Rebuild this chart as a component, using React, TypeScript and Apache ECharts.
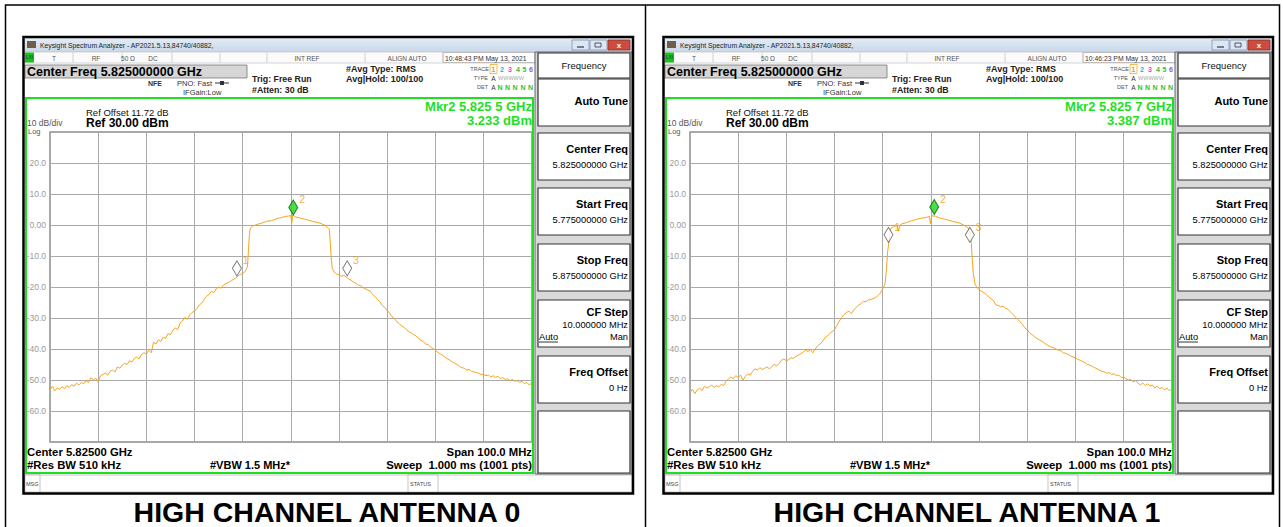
import React, { useEffect, useRef } from "react";
import * as echarts from "echarts";

const FONT = "'Liberation Sans', Arial, Helvetica, sans-serif";

// X: frequency offset (MHz) from start 5.775 GHz (span 100 MHz); Y: level in dBm
const ant0Freq = [
  0, 0.5, 1, 1.5, 2, 2.5, 3, 3.5, 4, 4.5, 5, 5.5, 6, 6.5, 7, 7.5, 8, 8.5, 9, 9.5,
  10, 10.5, 11, 11.5, 12, 12.5, 13, 13.5, 14, 14.5, 15, 15.5, 16, 16.5, 17, 17.5, 18, 18.5, 19, 19.5,
  20, 20.5, 21, 21.5, 22, 22.5, 23, 23.5, 24, 24.5, 25, 25.5, 26, 26.5, 27, 27.5, 28, 28.5, 29, 29.5,
  30, 30.5, 31, 31.5, 32, 32.5, 33, 33.5, 34, 34.5, 35, 35.5, 36, 36.5, 37, 37.5, 38, 38.5, 39, 39.5,
  40, 40.5, 41, 41.2, 41.4, 41.6, 42, 43, 44, 45, 46, 47, 48, 49, 50, 50.2, 50.4, 51, 52, 53, 54, 55, 56, 57,
  57.6, 58, 58.2, 58.4, 58.6, 59, 59.5,
  60, 60.5, 61, 61.5, 62, 62.5, 63, 63.5, 64, 64.5, 65, 65.5, 66, 66.5, 67, 67.5, 68, 68.5, 69, 69.5,
  70, 70.5, 71, 71.5, 72, 72.5, 73, 73.5, 74, 74.5, 75, 75.5, 76, 76.5, 77, 77.5, 78, 78.5, 79, 79.5,
  80, 80.5, 81, 81.5, 82, 82.5, 83, 83.5, 84, 84.5, 85, 85.5, 86, 86.5, 87, 87.5, 88, 88.5, 89, 89.5,
  90, 90.5, 91, 91.5, 92, 92.5, 93, 93.5, 94, 94.5, 95, 95.5, 96, 96.5, 97, 97.5, 98, 98.5, 99, 99.5, 100,
];
const ant0Level = [
  -53.2, -52.0, -53.5, -52.6, -53.0, -52.2, -52.8, -51.8, -52.4, -51.5, -52.0, -51.0, -51.6, -50.8, -51.2, -50.2, -50.8, -49.2, -50.0, -49.4,
  -50.6, -48.6, -48.2, -47.8, -48.4, -47.2, -46.8, -47.4, -45.8, -46.2, -45.2, -44.6, -45.0, -43.8, -44.2, -43.0, -42.6, -43.2, -41.8, -41.2,
  -41.6, -40.4, -41.2, -37.8, -38.4, -37.0, -37.6, -36.2, -36.6, -35.0, -35.4, -34.0, -33.2, -33.8, -31.6, -31.0, -29.8, -30.4, -29.0, -28.2,
  -27.8, -27.0, -25.8, -25.2, -24.0, -23.0, -22.4, -21.4, -21.8, -20.6, -20.0, -20.4, -19.4, -19.0, -18.6, -18.2, -17.6, -17.2, -16.4, -16.0,
  -15.6, -15.0, -13.5, -8.0, -3.0, -1.0, -0.4, 0.2, 0.6, 1.2, 1.4, 2.0, 2.4, 2.8, 3.0, 0.6, 3.2, 2.6, 2.2, 1.8, 1.4, 1.0, 0.6, 0.0,
  -0.8, -1.4, -6.0, -11.0, -14.0, -15.2, -15.8,
  -16.0, -16.6, -16.2, -16.8, -17.4, -17.8, -18.4, -18.8, -19.4, -19.6, -20.2, -20.6, -21.0, -21.4, -22.4, -23.2, -24.0, -24.8, -26.0, -26.6,
  -27.6, -28.4, -29.6, -30.2, -31.2, -31.8, -32.6, -33.0, -33.8, -34.4, -34.8, -35.4, -35.8, -36.6, -37.2, -37.6, -38.4, -38.6, -39.4, -39.8,
  -40.4, -41.0, -41.6, -42.0, -42.6, -43.2, -43.6, -44.2, -44.6, -45.0, -45.6, -46.0, -46.2, -46.8, -46.6, -47.2, -47.4, -47.6, -47.8, -48.2,
  -48.2, -48.6, -48.4, -49.0, -48.6, -49.2, -48.8, -49.6, -49.2, -49.8, -49.6, -50.2, -49.8, -50.4, -50.2, -50.8, -50.4, -51.2, -50.8, -51.6, -51.0,
];

const ant1Freq = [
  0, 0.5, 1, 1.5, 2, 2.5, 3, 3.5, 4, 4.5, 5, 5.5, 6, 6.5, 7, 7.5, 8, 8.5, 9, 9.5,
  10, 10.5, 11, 11.5, 12, 12.5, 13, 13.5, 14, 14.5, 15, 15.5, 16, 16.5, 17, 17.5, 18, 18.5, 19, 19.5,
  20, 20.5, 21, 21.5, 22, 22.5, 23, 23.5, 24, 24.5, 25, 25.5, 26, 26.5, 27, 27.5, 28, 28.5, 29, 29.5,
  30, 30.5, 31, 31.5, 32, 32.5, 33, 33.5, 34, 34.5, 35, 35.5, 36, 36.5, 37, 37.5, 38, 38.5, 39, 39.5,
  40, 40.5, 40.8, 41.0, 41.3, 41.6, 42, 42.5, 43, 43.3, 43.6, 44, 45, 46, 47, 48, 49, 49.7, 49.9, 50.2,
  51, 52, 53, 54, 55, 56, 57, 57.8, 58.2, 58.4, 58.6, 58.8, 59.2, 59.6,
  60, 60.5, 61, 61.5, 62, 62.5, 63, 63.5, 64, 64.5, 65, 65.5, 66, 66.5, 67, 67.5, 68, 68.5, 69, 69.5,
  70, 70.5, 71, 71.5, 72, 72.5, 73, 73.5, 74, 74.5, 75, 75.5, 76, 76.5, 77, 77.5, 78, 78.5, 79, 79.5,
  80, 80.5, 81, 81.5, 82, 82.5, 83, 83.5, 84, 84.5, 85, 85.5, 86, 86.5, 87, 87.5, 88, 88.5, 89, 89.5,
  90, 90.5, 91, 91.5, 92, 92.5, 93, 93.5, 94, 94.5, 95, 95.5, 96, 96.5, 97, 97.5, 98, 98.5, 99, 99.5, 100,
];
const ant1Level = [
  -54.0, -53.0, -54.4, -53.2, -52.6, -53.4, -52.0, -52.6, -52.2, -51.6, -52.4, -51.8, -52.2, -51.4, -51.8, -50.4, -49.6, -49.0, -49.6, -48.6,
  -49.2, -48.4, -50.0, -48.8, -48.0, -48.4, -47.2, -46.4, -46.8, -46.0, -46.6, -46.2, -45.8, -46.4, -45.6, -45.0, -45.4, -44.6, -43.6, -43.2,
  -43.8, -43.4, -42.8, -43.0, -42.4, -42.0, -41.6, -41.0, -40.4, -40.8, -40.2, -41.2, -40.0, -39.0, -38.4, -37.6, -36.4, -35.8, -35.0, -34.4,
  -33.8, -32.4, -31.0, -29.8, -28.8, -28.2, -27.8, -28.6, -27.4, -26.6, -25.8, -25.4, -24.6, -24.8, -24.2, -24.0, -23.8, -23.4, -22.8, -22.0,
  -20.6, -19.0, -14.0, -9.0, -5.5, -1.2, -0.8, -0.4, -0.2, -2.0, 0.0, 0.4, 0.8, 1.4, 1.8, 2.2, 2.4, 2.8, 0.4, 3.0,
  2.8, 2.2, 1.8, 1.4, 1.0, 0.6, -0.2, -1.0, -3.0, -6.0, -11.0, -15.5, -19.2, -20.2,
  -20.8, -21.4, -21.8, -22.4, -23.2, -23.8, -24.4, -25.8, -26.0, -26.4, -26.2, -26.8, -27.2, -28.0, -28.8, -29.6, -30.4, -31.2, -32.0, -33.2,
  -33.8, -34.8, -35.4, -36.0, -36.6, -37.0, -37.4, -38.0, -38.6, -39.0, -39.4, -39.6, -40.0, -40.4, -40.6, -41.2, -41.4, -41.8, -42.2, -42.6,
  -42.8, -43.4, -43.6, -44.0, -44.4, -45.0, -45.2, -45.6, -46.0, -46.4, -46.8, -47.2, -47.4, -47.8, -47.6, -48.2, -48.0, -48.6, -48.4, -49.2,
  -49.0, -49.6, -50.0, -49.8, -50.6, -50.2, -51.0, -51.6, -51.0, -51.8, -51.2, -52.0, -51.6, -52.6, -52.0, -52.8, -52.4, -53.2, -52.6, -53.4, -53.0,
];

// Markers (frequency offset MHz, level dBm)
const markerNames = ["1", "2", "3"];
const ant0MarkerFreq = [38.8, 50.5, 61.7];
const ant0MarkerLevel = [-16.4, 3.233, -16.4];
const ant1MarkerFreq = [41.2, 50.7, 58.1];
const ant1MarkerLevel = [-5.6, 3.387, -5.6];

const yTicks = [30, 20, 10, 0, -10, -20, -30, -40, -50, -60, -70];
const yTickLabels = ["", "20.0", "10.0", "0.00", "-10.0", "-20.0", "-30.0", "-40.0", "-50.0", "-60.0", ""];

const panelTitles = ["HIGH CHANNEL ANTENNA 0", "HIGH CHANNEL ANTENNA 1"];
const panelTimes = ["10:48:43 PM May 13, 2021", "10:46:23 PM May 13, 2021"];
const panelMkrFreq = ["Mkr2 5.825 5 GHz", "Mkr2 5.825 7 GHz"];
const panelMkrLevel = ["3.233 dBm", "3.387 dBm"];

const softkeys = [
  { title: "Auto Tune", value: "" },
  { title: "Center Freq", value: "5.825000000 GHz" },
  { title: "Start Freq", value: "5.775000000 GHz" },
  { title: "Stop Freq", value: "5.875000000 GHz" },
  { title: "CF Step", value: "10.000000 MHz" },
  { title: "Freq Offset", value: "0 Hz" },
];

const TRACE_COLOR = "#f7a31c";
const GREEN = "#1fe01f";

function buildPanel(dx: number, idx: number): any[] {
  const e: any[] = [];
  const t = (x: number, y: number, text: string, o: any = {}) =>
    e.push({
      type: "text",
      x: dx + x,
      y,
      silent: true,
      z: 20,
      style: {
        text,
        fill: o.c || "#000",
        fontSize: o.s || 8,
        fontWeight: o.b ? "bold" : "normal",
        fontFamily: FONT,
        textAlign: o.a || "left",
        verticalAlign: "middle",
        textVerticalAlign: "middle",
      },
    });
  const r = (x: number, y: number, w: number, h: number, fill: any, stroke?: string, lw?: number) =>
    e.push({
      type: "rect",
      silent: true,
      z: 10,
      shape: { x: dx + x, y, width: w, height: h },
      style: { fill, stroke: stroke || "none", lineWidth: lw || 0 },
    });
  const l = (x1: number, y1: number, x2: number, y2: number, stroke: string, lw: number) =>
    e.push({
      type: "line",
      silent: true,
      z: 15,
      shape: { x1: dx + x1, y1, x2: dx + x2, y2 },
      style: { stroke, lineWidth: lw },
    });

  // Title bar
  r(25, 38, 607, 14, {
    type: "linear", x: 0, y: 0, x2: 0, y2: 1,
    colorStops: [{ offset: 0, color: "#e4ecf6" }, { offset: 1, color: "#c9d7e8" }],
  });
  r(27, 41, 9, 7, "#6d5f45");
  t(40, 45, "Keysight Spectrum Analyzer - AP2021.5.13,84740/40882,", { s: 6.8, c: "#222" });
  r(572, 40, 17, 10, "#dde7f3", "#7d92ad", 0.8);
  l(577, 47, 584, 47, "#334", 1.2);
  r(590, 40, 17, 10, "#dde7f3", "#7d92ad", 0.8);
  r(595, 43, 6, 4, "none", "#334", 0.8);
  r(608, 40, 22, 10, "#cf4b3f", "#8c2b24", 0.8);
  t(619, 45.5, "x", { s: 8, b: true, c: "#fff", a: "center" });

  // Status row
  r(25, 52, 510, 11, "#fbfbfb", "#b8b8b8", 0.6);
  r(25, 52.5, 9, 10, "#17c417");
  t(29.5, 57.5, "LXI", { s: 4.5, b: true, c: "#063", a: "center" });
  [73, 122, 172, 220, 267, 365, 443].forEach((x) => l(x, 52.5, x, 62.5, "#c0c0c0", 0.7));
  t(54, 58, "T", { s: 6.5, c: "#555", a: "center" });
  t(96, 58, "RF", { s: 6.5, c: "#555", a: "center" });
  t(128, 58, "50 Ω", { s: 6.5, c: "#555", a: "center" });
  t(153, 58, "DC", { s: 6.5, c: "#555", a: "center" });
  t(307, 58, "INT REF", { s: 6.5, c: "#555", a: "center" });
  t(407, 58, "ALIGN AUTO", { s: 6.5, c: "#555", a: "center" });
  r(443, 52.5, 92, 10, "#fff", "#999", 0.6);
  t(445, 58, panelTimes[idx], { s: 6.8, c: "#333" });

  // Center freq box
  r(25, 65, 222, 13, "#d6d6d6", "#777", 0.8);
  t(27, 71.5, "Center Freq 5.825000000 GHz", { s: 12.5, b: true });
  t(148, 83, "NFE", { s: 7, b: true, c: "#333" });
  t(177, 83, "PNO: Fast", { s: 7.5, c: "#333" });
  l(215, 83, 229, 83, "#333", 1);
  r(220, 81, 4, 4, "#333");
  t(183, 92, "IFGain:Low", { s: 7.5, c: "#333" });
  t(252, 79, "Trig: Free Run", { s: 8.8, b: true, c: "#222" });
  t(252, 90, "#Atten: 30 dB", { s: 8.8, b: true, c: "#222" });
  t(346, 69, "#Avg Type: RMS", { s: 9, b: true, c: "#222" });
  t(346, 79, "Avg|Hold: 100/100", { s: 9, b: true, c: "#222" });

  // Trace info block
  t(489, 69, "TRACE", { s: 5.5, c: "#555", a: "right" });
  r(490, 64.5, 7, 9, "none", "#f0a000", 0.7);
  const tc = ["#f0a000", "#00c8e0", "#e040e0", "#30c030", "#30c030", "#8a5cf0"];
  [493.5, 502, 510, 518, 524.5, 531].forEach((x, i) =>
    t(x, 69, String(i + 1), { s: 7, b: true, c: tc[i], a: "center" })
  );
  t(488, 78, "TYPE", { s: 5.5, c: "#555", a: "right" });
  t(493.5, 78, "A", { s: 6.5, c: "#333", a: "center" });
  t(498, 78, "WWWWW", { s: 5.5, c: "#aaa" });
  t(488, 87, "DET", { s: 5.5, c: "#555", a: "right" });
  t(493.5, 87, "A", { s: 6.5, c: "#333", a: "center" });
  [500, 507.5, 515, 523, 530.5].forEach((x) => t(x, 87, "N", { s: 7, b: true, c: "#30c030", a: "center" }));

  // Display area (green frame)
  r(26, 98, 507, 375, "none", GREEN, 2);
  t(86, 112, "Ref Offset 11.72 dB", { s: 9.5, c: "#111" });
  t(86, 123, "Ref 30.00 dBm", { s: 12, b: true });
  t(27, 122.5, "10 dB/div", { s: 8.5, c: "#555" });
  t(28, 131.5, "Log", { s: 7.5, c: "#555" });
  t(532, 106, panelMkrFreq[idx], { s: 13, b: true, c: GREEN, a: "right" });
  t(532, 120, panelMkrLevel[idx], { s: 13, b: true, c: GREEN, a: "right" });
  t(27, 452, "Center 5.82500 GHz", { s: 11.3, b: true });
  t(27, 464.5, "#Res BW 510 kHz", { s: 11.3, b: true });
  t(210, 464.5, "#VBW 1.5 MHz*", { s: 11, b: true });
  t(532, 452, "Span 100.0 MHz", { s: 11.3, b: true, a: "right" });
  t(532, 464.5, "Sweep  1.000 ms (1001 pts)", { s: 11.3, b: true, a: "right" });

  // Message bar
  r(25, 475, 607, 17, "#fff", "#a0a0a0", 0.6);
  r(25, 475, 15, 17, "#fff", "#a0a0a0", 0.6);
  t(26, 483.5, "MSG", { s: 5.5, c: "#444" });
  r(408, 475, 30, 17, "#fff", "#a0a0a0", 0.6);
  t(410, 483.5, "STATUS", { s: 5.5, c: "#444" });

  // Softkey panel
  r(535, 52, 97, 422, "#d9d9d9", "#666", 1);
  r(538, 53, 92, 25, "#fff", "#333", 1.2);
  t(584, 65, "Frequency", { s: 9.5, c: "#111", a: "center" });
  const boxY = [79, 133, 188, 244, 300, 356];
  softkeys.forEach((k, i) => {
    const y = boxY[i];
    r(538, y, 92, 47, "#fff", "#333", 1.2);
    if (i === 0) {
      t(628, y + 22, k.title, { s: 11, b: true, a: "right" });
    } else if (k.title === "CF Step") {
      t(628, y + 12, k.title, { s: 11, b: true, a: "right" });
      t(628, y + 25, k.value, { s: 9.3, a: "right" });
      t(539, y + 37, "Auto", { s: 9.3 });
      l(539, y + 42, 558, y + 42, "#000", 0.8);
      t(628, y + 37, "Man", { s: 9.3, a: "right" });
    } else {
      t(628, y + 16, k.title, { s: 11, b: true, a: "right" });
      t(628, y + 32, k.value, { s: 9.3, a: "right" });
    }
  });
  r(538, 411, 92, 62, "#fff", "#333", 1.2);

  // Window frame
  r(23.5, 37, 609.5, 456.5, "none", "#000", 2.5);

  // Panel caption
  t(327, 512, panelTitles[idx], { s: 28.5, b: true, a: "center" });
  return e;
}

const App: React.FC = () => {
  const ref = useRef<HTMLDivElement>(null);
  useEffect(() => {
    if (!ref.current) return;
    const chart = echarts.init(ref.current, undefined, { renderer: "svg" });
    const grids = [0, 1].map((i) => ({
      left: 50 + i * 640,
      top: 132,
      width: 481.7,
      height: 310,
      show: true,
      borderColor: "#8a8a8a",
      borderWidth: 1.5,
      backgroundColor: "#fff",
    }));
    const xAxes = [0, 1].map((i) => ({
      type: "value",
      gridIndex: i,
      min: 0,
      max: 100,
      interval: 10,
      axisLabel: { show: false },
      axisTick: { show: false },
      axisLine: { show: false },
      splitLine: { show: true, lineStyle: { color: "#a9a9a9", width: 1 } },
    }));
    const yAxes = [0, 1].map((i) => ({
      type: "value",
      gridIndex: i,
      min: -70,
      max: 30,
      interval: 10,
      axisTick: { show: false },
      axisLine: { show: false },
      axisLabel: {
        margin: 4,
        color: "#9a9a9a",
        fontSize: 8.5,
        fontFamily: FONT,
        formatter: (v: number) => {
          const k = yTicks.indexOf(Math.round(v));
          return k >= 0 ? yTickLabels[k] : "";
        },
      },
      splitLine: { show: true, lineStyle: { color: "#a9a9a9", width: 1 } },
    }));
    const traces = [
      ant0Freq.map((f, i) => [f, ant0Level[i]]),
      ant1Freq.map((f, i) => [f, ant1Level[i]]),
    ];
    const markers = [
      [ant0MarkerFreq, ant0MarkerLevel],
      [ant1MarkerFreq, ant1MarkerLevel],
    ];
    const series: any[] = [];
    [0, 1].forEach((i) => {
      series.push({
        type: "line",
        xAxisIndex: i,
        yAxisIndex: i,
        data: traces[i],
        symbol: "none",
        showSymbol: false,
        lineStyle: { color: TRACE_COLOR, width: 1 },
        z: 3,
      });
      series.push({
        type: "scatter",
        xAxisIndex: i,
        yAxisIndex: i,
        symbol: "diamond",
        symbolSize: [9, 15],
        symbolOffset: [0, -7.5],
        z: 5,
        label: {
          show: true,
          formatter: (p: any) => p.name,
          position: "right",
          distance: 1,
          offset: [0, -8],
          color: "#f29b00",
          fontSize: 10.5,
          fontFamily: FONT,
        },
        data: markers[i][0].map((f, k) => ({
          name: markerNames[k],
          value: [f, markers[i][1][k]],
          itemStyle:
            k === 1
              ? { color: "#19d619", borderColor: "#0b5e0b", borderWidth: 1 }
              : { color: "#ffffff", borderColor: "#555555", borderWidth: 1 },
        })),
      });
    });
    const graphics: any[] = [
      ...buildPanel(0, 0),
      ...buildPanel(640, 1),
      {
        type: "rect",
        silent: true,
        z: 30,
        shape: { x: 5.5, y: 5, width: 1274, height: 530 },
        style: { fill: "none", stroke: "#000", lineWidth: 1.5 },
      },
      {
        type: "line",
        silent: true,
        z: 30,
        shape: { x1: 645.5, y1: 5, x2: 645.5, y2: 527 },
        style: { stroke: "#000", lineWidth: 1.5 },
      },
    ];
    chart.setOption({
      animation: false,
      backgroundColor: "#fff",
      grid: grids,
      xAxis: xAxes,
      yAxis: yAxes,
      series,
      graphic: { elements: graphics },
    });
    return () => chart.dispose();
  }, []);
  return (
    <div
      ref={ref}
      style={{ position: "fixed", left: 0, top: 0, width: 1283, height: 527 }}
    />
  );
};

export default App;
